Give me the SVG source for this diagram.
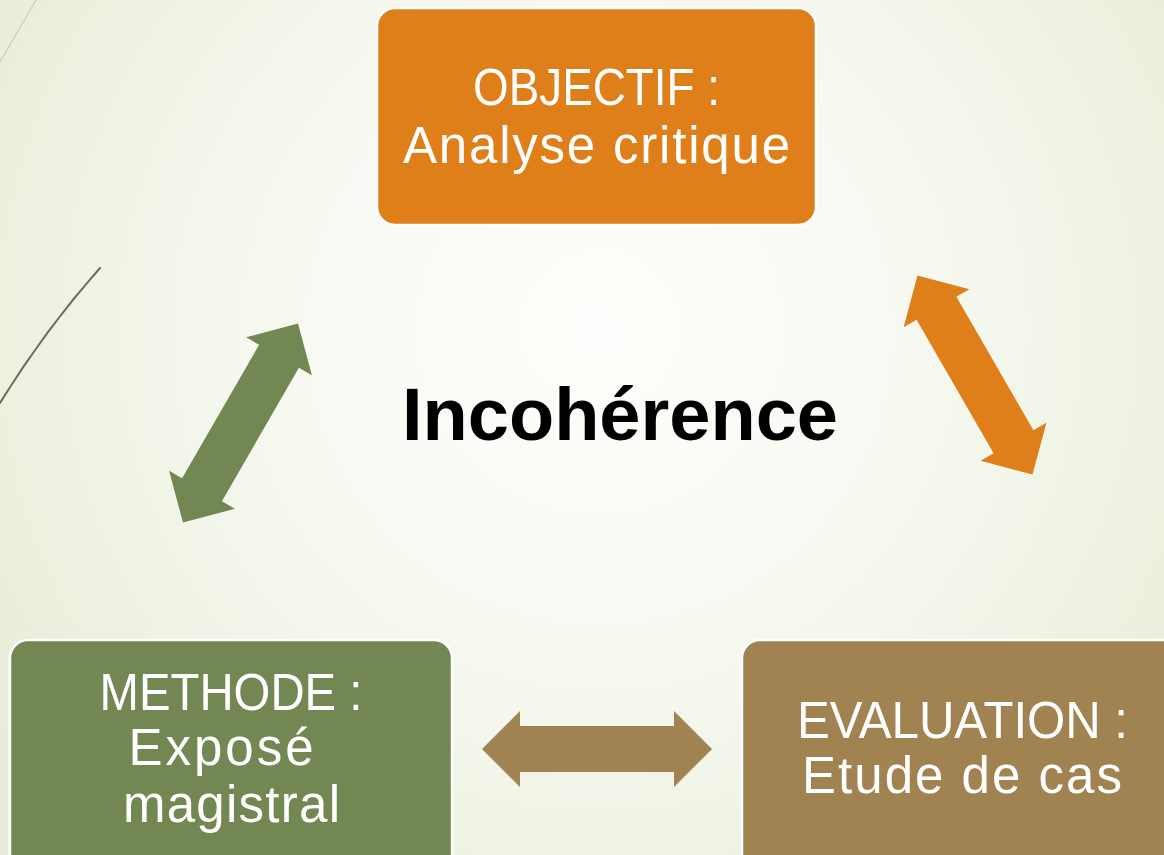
<svg xmlns="http://www.w3.org/2000/svg" width="1164" height="855" viewBox="0 0 1164 855">
  <defs>
    <radialGradient id="bg" cx="600" cy="330" r="720" gradientUnits="userSpaceOnUse">
      <stop offset="0" stop-color="#FEFEFC"/>
      <stop offset="0.45" stop-color="#F7F9F1"/>
      <stop offset="1" stop-color="#E7EDD8"/>
    </radialGradient>
    <path id="dblarrow" d="M -115 0 L -77 -38 L -77 -23 L 77 -23 L 77 -38 L 115 0 L 77 38 L 77 23 L -77 23 L -77 38 Z"/>
  </defs>
  <style>
    .box { stroke: #FFFFFF; stroke-width: 2.5; }
    .lbl { font-family: "Liberation Sans", Arial, sans-serif; font-size: 51px; fill: #FFFFFF; text-anchor: middle; }
    .title { font-family: "Liberation Sans", Arial, sans-serif; font-size: 74px; font-weight: bold; fill: #000000; text-anchor: middle; }
  </style>
  <rect x="0" y="0" width="1164" height="855" fill="url(#bg)"/>
  <g id="decor" fill="none" stroke-linecap="round">
    <path d="M 36 0 L 0 62" stroke="#CBCDBD" stroke-width="1.2"/>
    <path d="M 100 268 Q 45 330 0 403" stroke="#6F6B56" stroke-width="2"/>
  </g>
  <g id="connectors">
    <use href="#dblarrow" transform="translate(240.5 423) rotate(-60)" fill="#738752"/>
    <use href="#dblarrow" transform="translate(975 375) rotate(60)" fill="#DE7F1A"/>
    <use href="#dblarrow" transform="translate(597 749)" fill="#A08350"/>
  </g>
  <g id="node-objectif">
    <rect class="box" x="377" y="8" width="439" height="217" rx="18" fill="#DE7F1A"/>
    <text class="lbl" x="596.5" y="105" textLength="247" lengthAdjust="spacingAndGlyphs">OBJECTIF :</text>
    <text class="lbl" x="596.5" y="163" textLength="387" lengthAdjust="spacing">Analyse critique</text>
  </g>
  <g id="node-methode">
    <rect class="box" x="10" y="640" width="442" height="240" rx="18" fill="#738752"/>
    <text class="lbl" x="231" y="710" textLength="263" lengthAdjust="spacingAndGlyphs">METHODE :</text>
    <text class="lbl" x="221" y="765" textLength="185" lengthAdjust="spacing">Exposé</text>
    <text class="lbl" x="231.5" y="822" textLength="217" lengthAdjust="spacing">magistral</text>
  </g>
  <g id="node-evaluation">
    <rect class="box" x="742" y="640" width="450" height="240" rx="18" fill="#A08350"/>
    <text class="lbl" x="962.5" y="738" textLength="331" lengthAdjust="spacingAndGlyphs">EVALUATION :</text>
    <text class="lbl" x="962" y="793" textLength="320" lengthAdjust="spacing">Etude de cas</text>
  </g>
  <g id="center-label">
    <text class="title" x="620" y="440">Incohérence</text>
  </g>
</svg>
